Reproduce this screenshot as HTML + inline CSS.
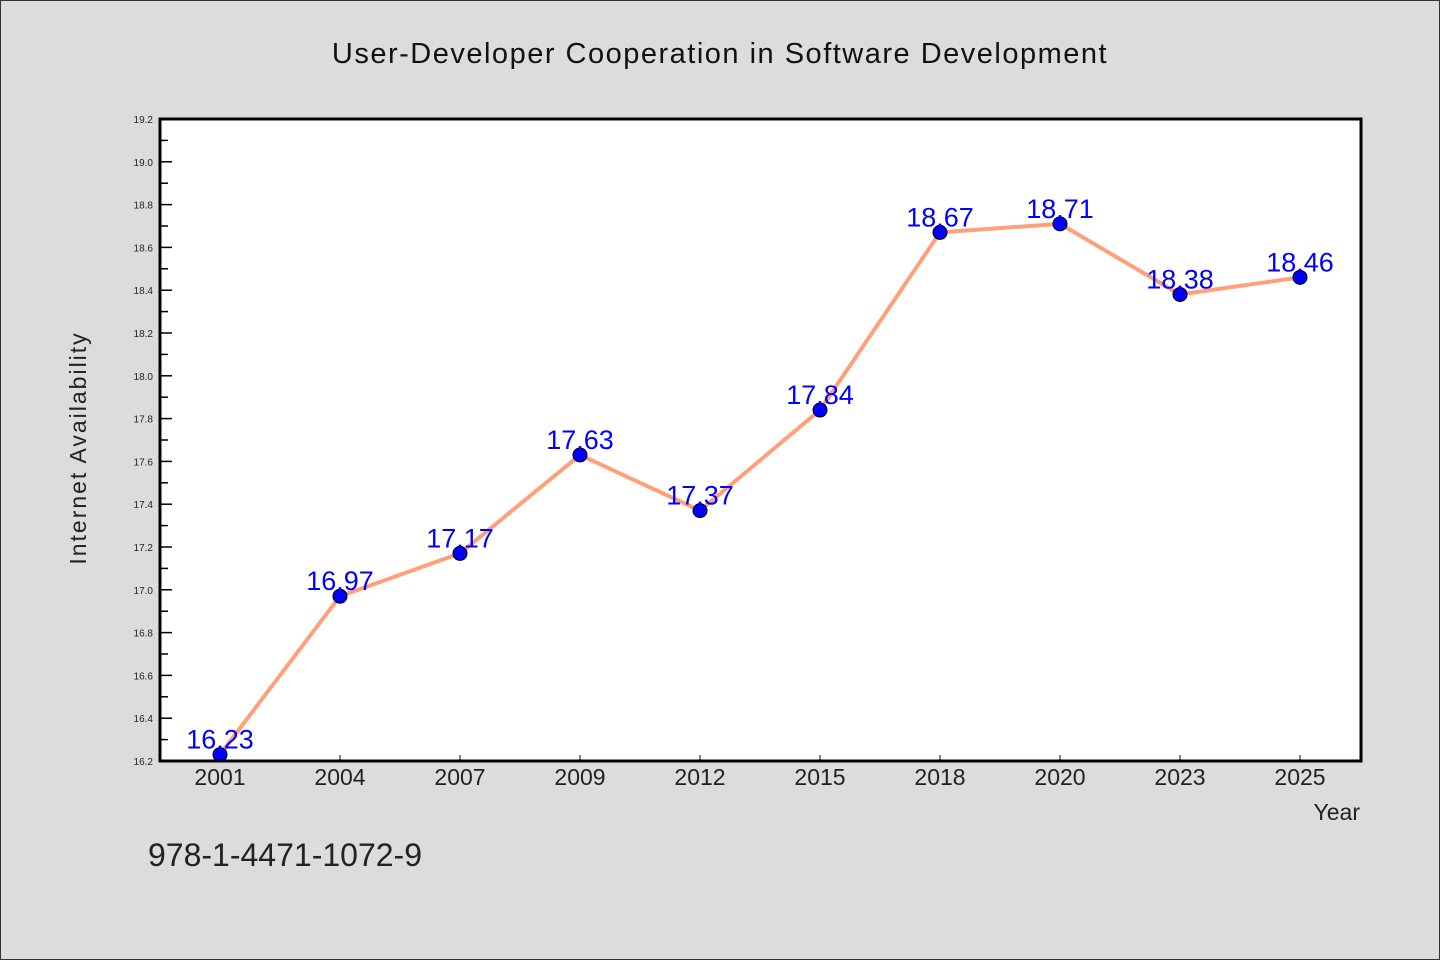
<!DOCTYPE html>
<html><head><meta charset="utf-8"><style>
html,body{margin:0;padding:0;}
body{width:1440px;height:960px;background:#dcdcdc;overflow:hidden;}
svg{display:block;}
text{font-family:"WenQuanYi Zen Hei","Liberation Sans",sans-serif;}
</style></head><body>
<svg width="1440" height="960">
<rect x="0.5" y="0.5" width="1439" height="959" fill="#dcdcdc" stroke="#333"/>
<text x="720" y="63" text-anchor="middle" font-size="29" fill="#111" letter-spacing="1.5">User-Developer Cooperation in Software Development</text>
<rect x="160" y="119" width="1201" height="642" fill="#fff"/>
<g id="yaxis"></g>
<g id="xaxis"></g>
<g id="series"></g>
<rect x="160" y="119" width="1201" height="642" fill="none" stroke="#000" stroke-width="3"/>
<text x="86" y="448" transform="rotate(-90 86 448)" text-anchor="middle" font-size="23" fill="#222" letter-spacing="2">Internet Availability</text>
<text x="1360" y="820" text-anchor="end" font-size="23" fill="#222">Year</text>
<text x="148" y="866" font-size="32" fill="#222">978-1-4471-1072-9</text>
</svg>
<script>
const categories=["2001","2004","2007","2009","2012","2015","2018","2020","2023","2025"];
const values=[16.23,16.97,17.17,17.63,17.37,17.84,18.67,18.71,18.38,18.46];
const valueLabels=["16.23","16.97","17.17","17.63","17.37","17.84","18.67","18.71","18.38","18.46"];
const yTicks=[16.2,16.4,16.6,16.8,17.0,17.2,17.4,17.6,17.8,18.0,18.2,18.4,18.6,18.8,19.0,19.2];
const NS="http://www.w3.org/2000/svg";
const L=160,R=1360,T=119,B=761,ymin=16.2,ymax=19.2;
const y=v=>B-(v-ymin)/(ymax-ymin)*(B-T);
const bw=(R-L)/categories.length;
const x=i=>L+bw*(i+0.5);
function mk(tag,attrs,parent){const e=document.createElementNS(NS,tag);for(const k in attrs)e.setAttribute(k,attrs[k]);parent.appendChild(e);return e;}
const ya=document.getElementById('yaxis'),xa=document.getElementById('xaxis'),sg=document.getElementById('series');
yTicks.forEach((t,i)=>{
  const yy=y(t);
  const ln=mk('line',{x1:L,x2:L+12,y1:yy,y2:yy,stroke:'#000','stroke-width':1.5},ya);
  
  
  if(i<yTicks.length-1){const m=y(t+0.1);const mn=mk('line',{x1:L,x2:L+8,y1:m,y2:m,stroke:'#000','stroke-width':1.5},ya);
  
  }
  const tx=mk('text',{x:L-7,y:yy+4,'text-anchor':'end','font-size':10,fill:'#222'},ya);
  tx.textContent=t.toFixed(1);
  
  
});
categories.forEach((c,i)=>{
  const xx=x(i);
  const ln=mk('line',{x1:xx,x2:xx,y1:B,y2:B-6,stroke:'#000','stroke-width':1},xa);
  
  
  const tx=mk('text',{x:xx,y:785,'text-anchor':'middle','font-size':23,fill:'#222'},xa);
  tx.textContent=c;
  
  
});
const pl=mk('polyline',{points:values.map((v,i)=>x(i)+','+y(v)).join(' '),fill:'none',stroke:'#ffa07a','stroke-width':4,'stroke-linejoin':'round'},sg);


values.forEach((v,i)=>{
  const c=mk('circle',{cx:x(i),cy:y(v),r:7,fill:'#0000ff',stroke:'#000','stroke-width':1},sg);
  
  
  const t=mk('text',{x:x(i),y:y(v)-6,'text-anchor':'middle','font-size':27,fill:'#0000ff'},sg);
  t.textContent=valueLabels[i];
  
  
});
</script>
</body></html>
